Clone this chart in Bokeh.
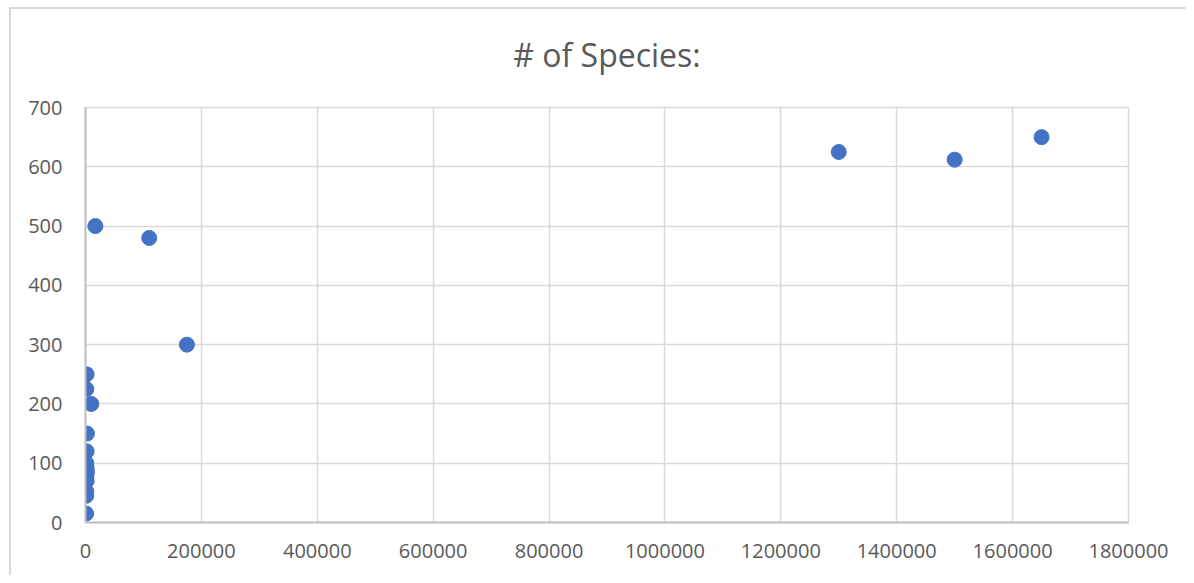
from bokeh.plotting import figure
from bokeh.models import FixedTicker, BasicTickFormatter
from bokeh.embed import file_html
from bokeh.resources import INLINE

# data
x_values = [1650000, 1500000, 1300000, 175000, 110000, 17000, 10000,
            2000, 1500, 2500, 2000, 1500, 2000, 2500, 1500, 2000, 1500, 1200, 1000]
species = [650, 612, 625, 300, 480, 500, 200,
           250, 225, 150, 120, 100, 92, 85, 78, 70, 52, 45, 15]
x_ticks = list(range(0, 1800001, 200000))
y_ticks = list(range(0, 701, 100))

FONT = "Open Sans"
TXT = "#595959"
GRID = "#d9d9d9"

p = figure(width=1186, height=575, x_range=(0, 1800000), y_range=(0, 700),
           output_backend="svg", toolbar_location=None,
           min_border_left=85, min_border_right=58, min_border_top=107, min_border_bottom=53)
p.border_fill_color = None
p.background_fill_color = "white"
p.styles = {
    "background-color": "white",
    "background-image": "linear-gradient(#d9d9d9,#d9d9d9), linear-gradient(#d9d9d9,#d9d9d9)",
    "background-size": "2px 100%, 100% 2px",
    "background-position": "9px 7px, 9px 7px",
    "background-repeat": "no-repeat",
}

p.title.text = "# of Species:"
p.title.align = "center"
p.title.vertical_align = "middle"
p.title.text_font = FONT
p.title.text_font_size = "32px"
p.title.text_font_style = "normal"
p.title.text_color = TXT
p.title.standoff = 62

p.scatter(x_values, species, size=15, color="#4472C4", line_color="#4472C4")

p.xaxis.ticker = FixedTicker(ticks=x_ticks)
p.yaxis.ticker = FixedTicker(ticks=y_ticks)
p.xaxis.formatter = BasicTickFormatter(use_scientific=False)
p.yaxis.formatter = BasicTickFormatter(use_scientific=False)
for ax in (p.xaxis, p.yaxis):
    ax.axis_line_color = "#bfbfbf"
    ax.axis_line_width = 2
    ax.major_tick_line_color = None
    ax.minor_tick_line_color = None
    ax.major_label_text_font = FONT
    ax.major_label_text_font_size = "20px"
    ax.major_label_text_color = TXT
p.xaxis.major_label_standoff = 15
p.yaxis.major_label_standoff = 17

p.xgrid.ticker = FixedTicker(ticks=x_ticks)
p.ygrid.ticker = FixedTicker(ticks=y_ticks)
p.grid.grid_line_color = GRID
p.grid.grid_line_width = 1.5
p.outline_line_color = GRID
p.outline_line_width = 1.5

open("out.html", "w").write(file_html(p, INLINE))
